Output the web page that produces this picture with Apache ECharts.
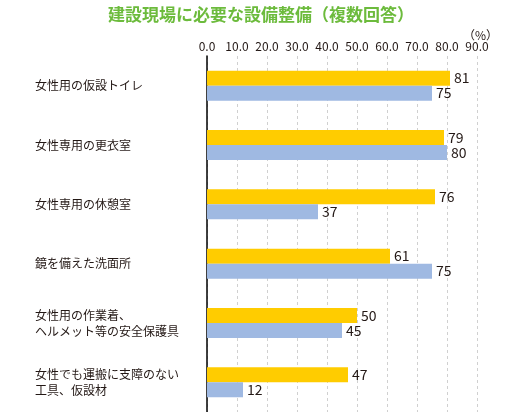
<!DOCTYPE html>
<html>
<head>
<meta charset="utf-8">
<script src="https://cdn.jsdelivr.net/npm/echarts@6/dist/echarts.min.js"></script>
<style>
html, body { margin: 0; padding: 0; background: #fff; }
#main { width: 522px; height: 412px; }
</style>
</head>
<body>
<div id="main"></div>
<script>
var categories = [
    '女性用の仮設トイレ',
    '女性専用の更衣室',
    '女性専用の休憩室',
    '鏡を備えた洗面所',
    '女性用の作業着、\nヘルメット等の安全保護具',
    '女性でも運搬に支障のない\n工具、仮設材'
];
var seriesA = [81, 79, 76, 61, 50, 47];
var seriesB = [75, 80, 37, 75, 45, 12];
var tickMin = 0, tickMax = 90, tickStep = 10;

var font = '"Noto Sans CJK JP", "Noto Sans", sans-serif';
var textColor = '#231815';

var myChart = echarts.init(document.getElementById('main'));
var option = {
    animation: false,
    textStyle: { fontFamily: font },
    title: [
        {
            text: '建設現場に必要な設備整備（複数回答）',
            left: 'center',
            top: 1,
            textStyle: { color: '#6cbb3c', fontSize: 17, fontWeight: 'bold', fontFamily: font }
        },
        {
            text: '（%）',
            left: 458,
            top: 24,
            textStyle: { color: textColor, fontSize: 12, fontWeight: 'normal', fontFamily: font }
        }
    ],
    grid: { left: 207, right: 45, top: 56, bottom: -2 },
    xAxis: {
        type: 'value',
        position: 'top',
        min: tickMin,
        max: tickMax,
        interval: tickStep,
        axisLine: { show: false },
        axisTick: { show: false },
        axisLabel: {
            color: textColor,
            fontSize: 12,
            margin: 4,
            formatter: function (v) { return v.toFixed(1); }
        },
        splitLine: { lineStyle: { color: '#d0d0d0', type: [3, 3], width: 1 } }
    },
    yAxis: {
        type: 'category',
        inverse: true,
        data: categories,
        axisLine: { lineStyle: { color: '#000', width: 1.5 } },
        axisTick: { show: false },
        axisLabel: {
            align: 'left',
            margin: 172,
            color: textColor,
            fontSize: 12,
            lineHeight: 16
        }
    },
    series: [
        {
            type: 'bar',
            data: seriesA,
            barWidth: 15,
            barGap: '0%',
            itemStyle: { color: '#ffcc00' },
            label: { show: true, position: 'right', distance: 4, color: textColor, fontSize: 14 }
        },
        {
            type: 'bar',
            data: seriesB,
            barWidth: 15,
            barGap: '0%',
            itemStyle: { color: '#9fb9e2' },
            label: { show: true, position: 'right', distance: 4, color: textColor, fontSize: 14 }
        }
    ]
};
myChart.setOption(option);
</script>
</body>
</html>
